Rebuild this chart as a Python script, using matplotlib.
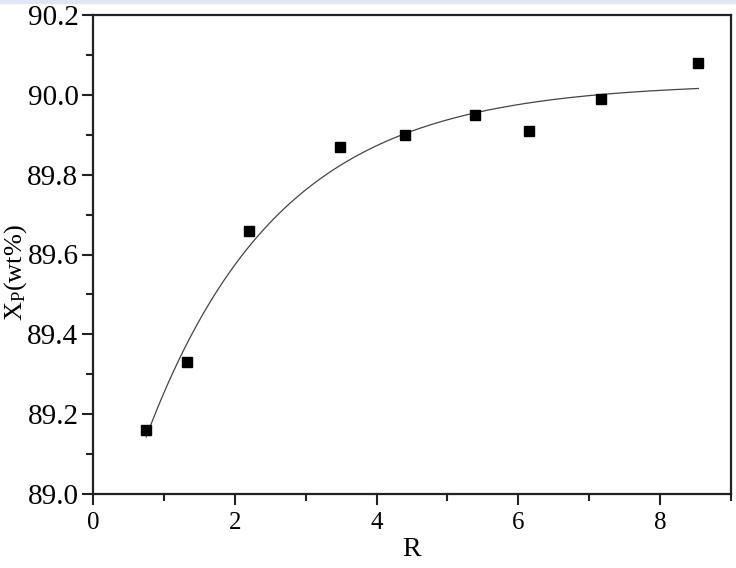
import numpy as np
import matplotlib
matplotlib.use('Agg')
import matplotlib.pyplot as plt
from matplotlib.patches import Rectangle

# measured points
r_vals = [0.75, 1.33, 2.20, 3.48, 4.40, 5.39, 6.15, 7.16, 8.53]
xp_vals = [89.16, 89.33, 89.66, 89.87, 89.90, 89.95, 89.91, 89.99, 90.08]

# exponential fit curve: y = a - b*exp(-x/t)
fit_a = 90.03
fit_b = 1.322
fit_t = 1.88
fit_range = [0.75, 8.54]

plt.rcParams['font.family'] = ['Liberation Serif', 'DejaVu Serif']
plt.rcParams['mathtext.fontset'] = 'custom'
plt.rcParams['mathtext.rm'] = 'Liberation Serif'
plt.rcParams['mathtext.it'] = 'Liberation Serif'

fig = plt.figure(figsize=(7.36, 5.68), dpi=100)
# thin light blue strip along the top edge
fig.patches.append(Rectangle((0, 1 - 3/568), 1, 3/568, transform=fig.transFigure,
                             color='#dde7f6', zorder=0))
ax = fig.add_axes([93/736, 74/568, 638/736, 479/568])

xf = np.linspace(fit_range[0], fit_range[1], 200)
yf = fit_a - fit_b*np.exp(-xf/fit_t)
ax.plot(xf, yf, color='#444444', lw=0.9, zorder=2)
ax.plot(r_vals, xp_vals, 's', color='black', markersize=7.5, zorder=3)

ax.set_xlim(0, 9)
ax.set_ylim(89.0, 90.2)
ax.set_xticks([0, 2, 4, 6, 8])
ax.set_xticks([1, 3, 5, 7, 9], minor=True)
ax.set_yticks(np.arange(89.0, 90.21, 0.2))
ax.set_yticks(np.arange(89.1, 90.2, 0.2), minor=True)
ax.set_yticklabels(['%.1f' % v for v in np.arange(89.0, 90.21, 0.2)])

for s in ax.spines.values():
    s.set_linewidth(1.6)
    s.set_color('#222222')
ax.tick_params(axis='both', which='major', direction='out', length=8, width=1.5,
               color='#222222')
ax.tick_params(axis='both', which='minor', direction='out', length=5, width=1.5,
               color='#222222')
ax.tick_params(axis='y', which='major', labelsize=21, pad=2.5)
ax.tick_params(axis='x', which='major', labelsize=18, pad=5)

ax.set_xlabel('R', fontsize=20, labelpad=2)
ax.set_ylabel(r'X$_\mathrm{P}$(wt%)', fontsize=19)
ax.yaxis.set_label_coords(-0.1, 0.463)

fig.savefig('out.png', dpi=100)
